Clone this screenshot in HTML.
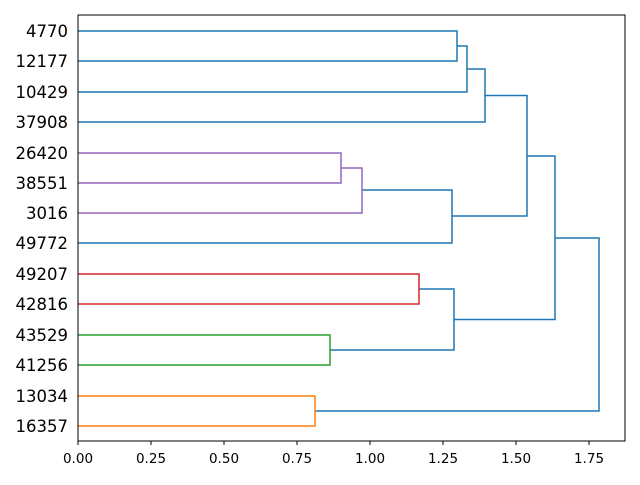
<!DOCTYPE html>
<html><head><meta charset="utf-8"><style>body{margin:0;background:#fff}</style></head><body>
<svg width="640" height="480" xmlns="http://www.w3.org/2000/svg" font-family="DejaVu Sans, Liberation Sans, sans-serif">
<rect width="640" height="480" fill="#fff"/>
<g fill="none" stroke-width="1.5">
<g stroke="#1f77b4">
<path d="M78,31H457V61H78"/>
<path d="M457,46H467V92H78"/>
<path d="M467,69H485V122H78"/>
<path d="M362,190H452V243H78"/>
<path d="M485,95.5H527V216H452"/>
<path d="M419,289H454V350H330"/>
<path d="M527,156H555V319.5H454"/>
<path d="M555,238H599V411H315"/>
</g>
<g stroke="#9467bd">
<path d="M78,153H341V183H78"/>
<path d="M341,168H362V213H78"/>
</g>
<path stroke="#d62728" d="M78,274H419V304H78"/>
<path stroke="#2ca02c" d="M78,335H330V365H78"/>
<path stroke="#ff7f0e" d="M78,396H315V426H78"/>
</g>
<rect x="78" y="15" width="547" height="426" fill="none" stroke="#000" stroke-width="1"/>
<g stroke="#000">
<line x1="78" y1="441" x2="78" y2="445"/><line x1="151" y1="441" x2="151" y2="445"/><line x1="224" y1="441" x2="224" y2="445"/><line x1="297" y1="441" x2="297" y2="445"/><line x1="370" y1="441" x2="370" y2="445"/><line x1="443" y1="441" x2="443" y2="445"/><line x1="516" y1="441" x2="516" y2="445"/><line x1="589" y1="441" x2="589" y2="445"/>
</g>
<g font-size="13.5" text-anchor="middle" fill="#000">
<text x="78" y="463">0.00</text><text x="151" y="463">0.25</text><text x="224" y="463">0.50</text><text x="297" y="463">0.75</text><text x="370" y="463">1.00</text><text x="443" y="463">1.25</text><text x="516" y="463">1.50</text><text x="589" y="463">1.75</text>
</g>
<g font-size="16.5" text-anchor="end" fill="#000">
<text x="68" y="37">4770</text><text x="68" y="67">12177</text><text x="68" y="98">10429</text><text x="68" y="128">37908</text><text x="68" y="159">26420</text><text x="68" y="189">38551</text><text x="68" y="219">3016</text><text x="68" y="249">49772</text><text x="68" y="280">49207</text><text x="68" y="310">42816</text><text x="68" y="341">43529</text><text x="68" y="371">41256</text><text x="68" y="402">13034</text><text x="68" y="432">16357</text>
</g>
</svg>
</body></html>
